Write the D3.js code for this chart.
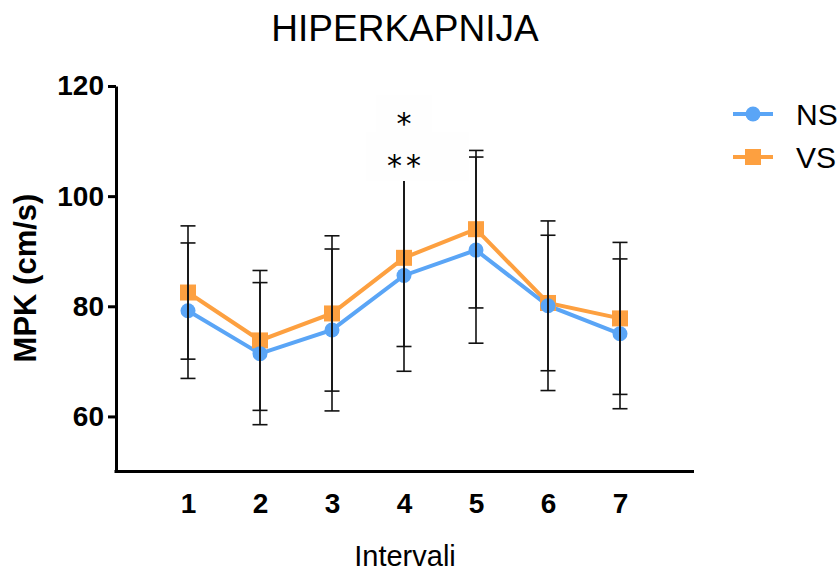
<!DOCTYPE html>
<html>
<head>
<meta charset="utf-8">
<script src="https://cdn.jsdelivr.net/npm/d3@7"></script>
<style>
  html, body { margin: 0; padding: 0; background: #fff; }
  svg { display: block; font-family: "Liberation Sans", Arial, sans-serif; }
</style>
</head>
<body>
<svg id="chart" width="840" height="573"></svg>
<script>
// ---- data ----
const intervals = [1, 2, 3, 4, 5, 6, 7];
const nsMean = [79.2, 71.4, 75.7, 85.6, 90.2, 80.1, 75.0];
const nsSD   = [12.3, 12.9, 14.7, 17.4, 16.9, 15.4, 13.6];
const vsMean = [82.5, 73.8, 78.7, 88.8, 94.0, 80.6, 77.8];
const vsSD   = [12.1, 12.7, 14.1, 16.1, 14.3, 12.3, 13.8];
const yTicks = [60, 80, 100, 120];
const seriesNames = ["NS", "VS"];
const sigLabels = ["*", "**"];
const sigInterval = 4;

const title = "HIPERKAPNIJA";
const xTitle = "Intervali";
const yTitle = "MPK (cm/s)";

// ---- layout ----
const svg = d3.select("#chart");
const colors = { NS: "#5AA5F6", VS: "#FDA040" };

const x = d3.scaleLinear().domain([0, 8]).range([116, 692]);
const y = d3.scaleLinear().domain([50, 120]).range([471.5, 86]);

// title
svg.append("text").attr("x", 405).attr("y", 41).attr("text-anchor", "middle")
  .style("font-size", "37px").text(title);

// y axis
const yAxis = svg.append("g").attr("transform", `translate(${x(0)},0)`)
  .call(d3.axisLeft(y).tickValues(yTicks).tickSize(8).tickSizeOuter(0).tickPadding(4));
yAxis.select(".domain").attr("stroke", "#000").attr("stroke-width", 3);
yAxis.selectAll(".tick line").attr("stroke", "#000").attr("stroke-width", 3);
yAxis.selectAll(".tick text").attr("fill", "#000")
  .style("font-size", "28px").style("font-weight", "bold")
  .style("font-family", "'Liberation Sans', Arial, sans-serif");

// x axis
const xAxis = svg.append("g").attr("transform", `translate(0,${y(50)})`)
  .call(d3.axisBottom(x).tickValues(intervals).tickSize(0).tickSizeOuter(0).tickPadding(22)
        .tickFormat(d3.format("d")));
xAxis.select(".domain").attr("stroke", "#000").attr("stroke-width", 3)
  .attr("d", `M${x(0) - 1.5},0H${x(8) + 2}`);
xAxis.selectAll(".tick text").attr("fill", "#000")
  .style("font-size", "28px").style("font-weight", "bold")
  .style("font-family", "'Liberation Sans', Arial, sans-serif");

// axis titles
svg.append("text").attr("transform", `translate(36,278) rotate(-90)`)
  .attr("text-anchor", "middle").style("font-size", "31px").style("font-weight", "bold")
  .text(yTitle);
svg.append("text").attr("x", 405).attr("y", 566).attr("text-anchor", "middle")
  .style("font-size", "29px").text(xTitle);

// series
const series = [
  { name: "VS", mean: vsMean, sd: vsSD },
  { name: "NS", mean: nsMean, sd: nsSD }
];

const line = d3.line().x((d, i) => x(intervals[i])).y(d => y(d));

series.forEach(s => {
  svg.append("path").datum(s.mean).attr("d", line)
    .attr("fill", "none").attr("stroke", colors[s.name]).attr("stroke-width", 4)
    .attr("stroke-linejoin", "miter");
});

// markers
const vs = series[0], ns = series[1];
svg.append("g").selectAll("rect").data(vs.mean).join("rect")
  .attr("x", (d, i) => x(intervals[i]) - 8).attr("y", d => y(d) - 8)
  .attr("width", 16).attr("height", 16).attr("fill", colors.VS);
svg.append("g").selectAll("circle").data(ns.mean).join("circle")
  .attr("cx", (d, i) => x(intervals[i])).attr("cy", d => y(d)).attr("r", 7.5)
  .attr("fill", colors.NS);

// error bars
series.forEach(s => {
  const g = svg.append("g").attr("stroke", "#111").attr("stroke-width", 1.6);
  s.mean.forEach((m, i) => {
    const cx = x(intervals[i]);
    const lo = y(m - s.sd[i]), hi = y(m + s.sd[i]);
    g.append("line").attr("x1", cx).attr("x2", cx).attr("y1", lo).attr("y2", hi);
    g.append("line").attr("x1", cx - 7.5).attr("x2", cx + 7.5).attr("y1", lo).attr("y2", lo);
    g.append("line").attr("x1", cx - 7.5).attr("x2", cx + 7.5).attr("y1", hi).attr("y2", hi);
  });
});

// significance label boxes
const sx = x(sigInterval);
svg.append("rect").attr("x", sx - 28).attr("y", 95).attr("width", 56).attr("height", 37)
  .attr("fill", "#fefefe");
svg.append("rect").attr("x", sx - 38).attr("y", 132).attr("width", 103).attr("height", 49)
  .attr("fill", "#fefefe");
svg.append("text").attr("x", sx).attr("y", 134).attr("text-anchor", "middle")
  .style("font-size", "30px").style("font-family", "'DejaVu Sans', sans-serif").text(sigLabels[0]);
svg.append("text").attr("x", sx + 2).attr("y", 176).attr("text-anchor", "middle")
  .style("font-size", "30px").style("letter-spacing", "4px")
  .style("font-family", "'DejaVu Sans', sans-serif").text(sigLabels[1]);

// legend
const legendItems = [
  { name: seriesNames[0], yy: 114 },
  { name: seriesNames[1], yy: 157 }
];
legendItems.forEach(it => {
  const g = svg.append("g");
  g.append("line").attr("x1", 733).attr("x2", 773).attr("y1", it.yy).attr("y2", it.yy)
    .attr("stroke", colors[it.name]).attr("stroke-width", 4);
  if (it.name === "NS") {
    g.append("circle").attr("cx", 753).attr("cy", it.yy).attr("r", 7.5).attr("fill", colors.NS);
  } else {
    g.append("rect").attr("x", 745).attr("y", it.yy - 8).attr("width", 16).attr("height", 16)
      .attr("fill", colors.VS);
  }
  g.append("text").attr("x", 796).attr("y", it.yy + 11).style("font-size", "30px").text(it.name);
});
</script>
</body>
</html>
